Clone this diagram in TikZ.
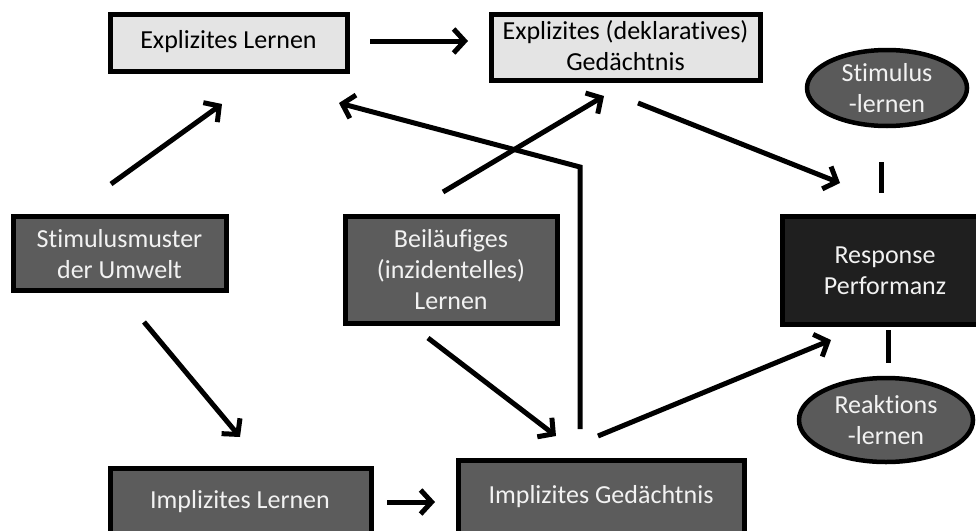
\documentclass[tikz,border=0pt]{standalone}
\usepackage{fontspec}
\setmainfont[Ligatures=NoCommon]{Carlito}
\usetikzlibrary{arrows.meta,shapes.geometric}
\definecolor{lightbox}{HTML}{E4E4E4}
\definecolor{darkbox}{HTML}{5C5C5C}
\definecolor{blackbox}{HTML}{1F1F1F}
\definecolor{ovalfill}{HTML}{5A5A5A}
\definecolor{lighttext}{HTML}{F2F2F2}
\begin{document}
\begin{tikzpicture}[x=1pt,y=-1pt,
  every node/.style={font=\fontsize{26}{31}\selectfont, align=center, inner sep=0pt},
  lbox/.style={draw=black, line width=5pt, fill=lightbox, text=black},
  dbox/.style={draw=black, line width=5pt, fill=darkbox, text=lighttext},
  bbox/.style={draw=black, line width=5pt, fill=blackbox, text=lighttext},
  oval/.style={ellipse, draw=black, line width=4.5pt, fill=ovalfill, text=lighttext},
  conn/.style={line width=5pt, -{Straight Barb[length=11pt,width=24pt]}},
  plain/.style={line width=5pt}
]
\clip (0,0) rectangle (976,530);
\fill[white] (0,0) rectangle (976,530);

% boxes (drawn as rectangles with named nodes at centres)
\draw[lbox] (110,14) rectangle (347,71);
\node[text=black] (EL) at (228.5,42) {Explizites Lernen};
\draw[lbox] (491,14) rectangle (760,80);
\node[text=black] (EG) at (625.5,46) {Explizites (deklaratives)\\Gedächtnis};
\draw[dbox] (13,216) rectangle (226,290);
\node[text=lighttext] (SM) at (119.5,254) {Stimulusmuster\\der Umwelt};
\draw[dbox] (345,216) rectangle (557,323);
\node[text=lighttext] (BL) at (451,270) {Beiläufiges\\(inzidentelles)\\Lernen};
\draw[bbox] (782,216) rectangle (995,324);
\node[text=lighttext] (RP) at (885,271) {Response\\Performanz};
\draw[dbox] (110,468) rectangle (371,545);
\node[text=lighttext] (IL) at (240,502) {Implizites Lernen};
\draw[dbox] (458,460) rectangle (744,545);
\node[text=lighttext] (IG) at (601,497) {Implizites Gedächtnis};

\node[oval, minimum width=160pt, minimum height=76pt] (SL) at (887,88) {Stimulus\\-lernen};
\node[oval, minimum width=174pt, minimum height=84pt] (RL) at (886,420) {Reaktions\\-lernen};

% connector end points
\coordinate (a1s) at (370,41); \coordinate (a1e) at (468,41);
\coordinate (a2s) at (111,184); \coordinate (a2e) at (222,104);
\coordinate (a3s) at (580,429); \coordinate (a3m) at (580,167); \coordinate (a3e) at (339,103);
\coordinate (a4s) at (443,192); \coordinate (a4e) at (604,96);
\coordinate (a5s) at (638,103); \coordinate (a5e) at (840,183);
\coordinate (a6s) at (144,322); \coordinate (a6e) at (240,437);
\coordinate (a7s) at (387,502); \coordinate (a7e) at (435,502);
\coordinate (a8s) at (428,338); \coordinate (a8e) at (556,436);
\coordinate (a9s) at (598,436); \coordinate (a9e) at (831,340);
\coordinate (l1s) at (881,162); \coordinate (l1e) at (881,193);
\coordinate (l2s) at (888,330); \coordinate (l2e) at (888,363);

\draw[conn] (a1s) -- (a1e);
\draw[conn] (a2s) -- (a2e);
\draw[conn] (a3s) -- (a3m) -- (a3e);
\draw[conn] (a4s) -- (a4e);
\draw[conn] (a5s) -- (a5e);
\draw[conn] (a6s) -- (a6e);
\draw[conn] (a7s) -- (a7e);
\draw[conn] (a8s) -- (a8e);
\draw[conn] (a9s) -- (a9e);
\draw[plain] (l1s) -- (l1e);
\draw[plain] (l2s) -- (l2e);
\end{tikzpicture}
\end{document}
